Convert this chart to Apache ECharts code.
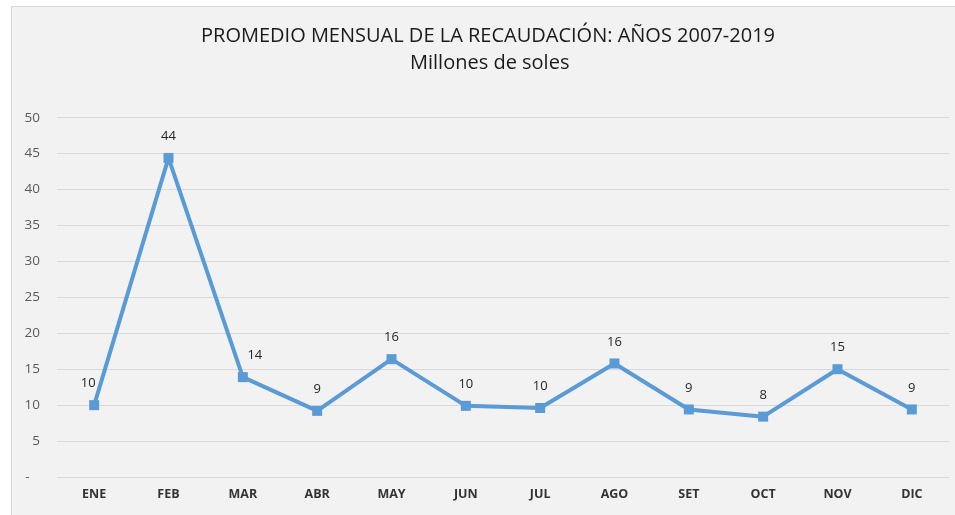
<!DOCTYPE html>
<html>
<head>
<meta charset="utf-8">
<script src="https://cdn.jsdelivr.net/npm/echarts@6/dist/echarts.min.js"></script>
<style>
  html, body { margin: 0; padding: 0; background: #ffffff; }
  #wrap { position: absolute; left: 0; top: 0; width: 955px; height: 515px; }
  #bg { position: absolute; left: 11px; top: 6px; right: 0; bottom: 0; background: #f2f2f2; border-top: 1px solid #d9d9d9; border-left: 1px solid #d9d9d9; }
  #chart { position: absolute; left: 0; top: 0; width: 955px; height: 515px; }
</style>
</head>
<body>
<div id="wrap">
  <div id="bg"></div>
  <div id="chart"></div>
</div>
<script>
// meses
var months = ['ENE', 'FEB', 'MAR', 'ABR', 'MAY', 'JUN', 'JUL', 'AGO', 'SET', 'OCT', 'NOV', 'DIC']
// promedio mensual, millones de soles
var recaudacion = [10.0, 44.4, 13.9, 9.2, 16.4, 9.9, 9.6, 15.8, 9.4, 8.4, 15.0, 9.4]

var chart = echarts.init(document.getElementById('chart'))

var seriesData = recaudacion.map(function(v, i) {
  var item = { value: v }
  // etiquetas desplazadas (ENE a la izquierda, MAR a la derecha)
  if (i === 0) {
    item.label = { offset: [-6, 0] }
  }
  if (i === 2) {
    item.label = { offset: [12, 0] }
  }
  return item
})

var titleFont = { fontSize: 20, fontWeight: 'normal', color: '#1a1a1a', fontFamily: 'Open Sans' }

chart.setOption({
  backgroundColor: 'transparent',
  textStyle: { fontFamily: 'Open Sans' },
  title: [
    {
      text: 'PROMEDIO MENSUAL DE LA RECAUDACIÓN: AÑOS 2007-2019',
      left: 196,
      top: 21,
      textStyle: titleFont
    },
    {
      text: 'Millones de soles',
      left: 405,
      top: 48,
      textStyle: titleFont
    }
  ],
  grid: {
    left: 57,
    right: 6,
    top: 117.7,
    bottom: 38
  },
  xAxis: {
    type: 'category',
    data: months,
    boundaryGap: true,
    axisLine: { show: false },
    axisTick: { show: false },
    axisLabel: {
      margin: 11,
      fontSize: 12.5,
      fontWeight: 'bold',
      color: '#333333',
      fontFamily: 'Open Sans'
    },
    splitLine: { show: false }
  },
  yAxis: {
    type: 'value',
    min: 0,
    max: 50,
    interval: 5,
    axisLine: { show: false },
    axisTick: { show: false },
    axisLabel: {
      margin: 17,
      fontSize: 13.5,
      color: '#595959',
      fontFamily: 'Open Sans',
      formatter: function(v) {
        return v === 0 ? '-   ' : String(v)
      }
    },
    splitLine: { lineStyle: { color: '#d9d9d9', width: 1 } }
  },
  series: [
    {
      name: 'Recaudación',
      type: 'line',
      data: seriesData,
      symbol: 'rect',
      symbolSize: 10,
      lineStyle: { color: '#5b9bd5', width: 4 },
      itemStyle: { color: '#5b9bd5' },
      label: {
        show: true,
        position: 'top',
        distance: 10,
        fontSize: 13,
        color: '#262626',
        fontFamily: 'Open Sans',
        formatter: function(p) {
          return Math.round(p.value)
        }
      }
    }
  ]
})
</script>
</body>
</html>
